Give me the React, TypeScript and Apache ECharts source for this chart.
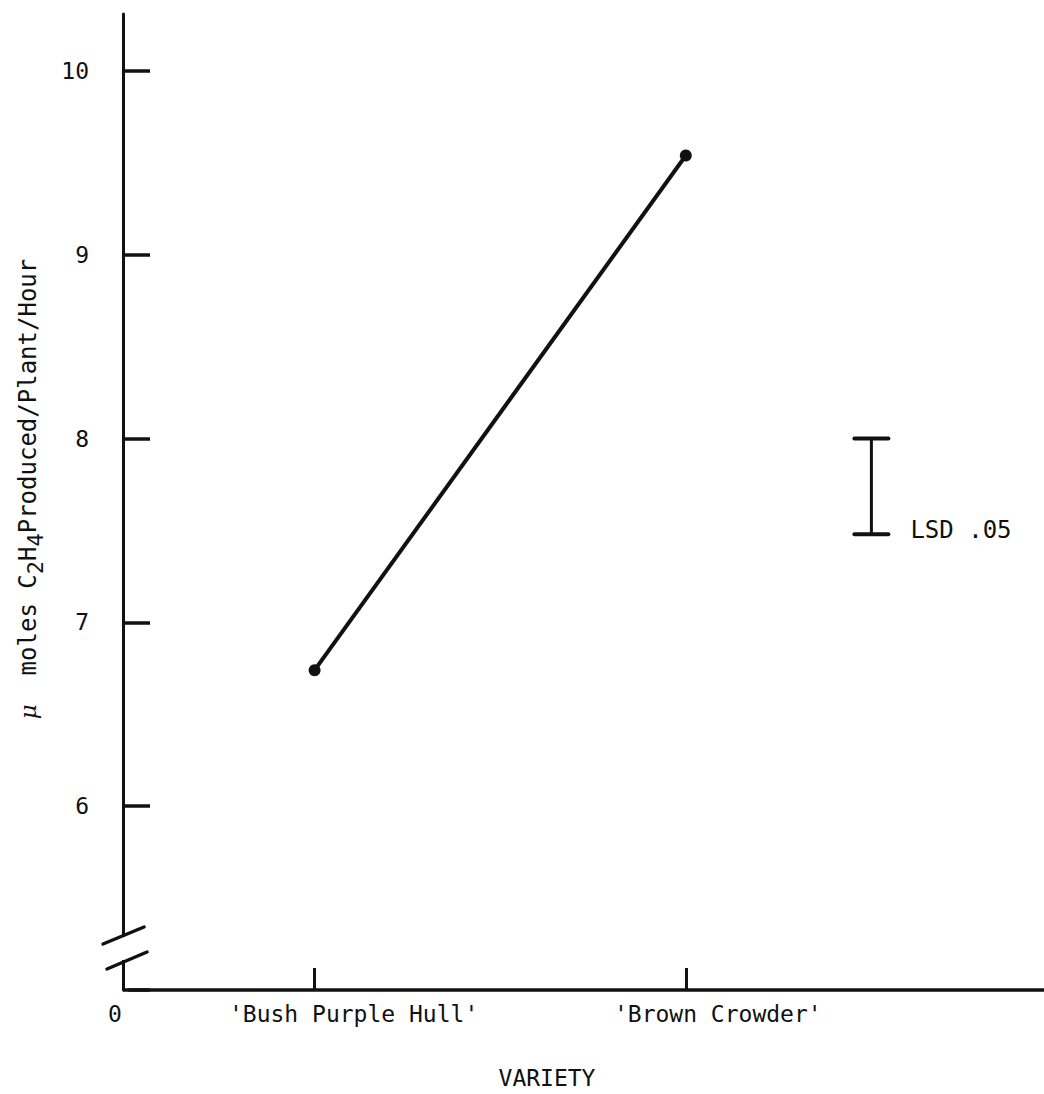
import React, { useEffect, useRef } from "react";
import * as echarts from "echarts";

// ---- data ----
const varieties = ["'Bush Purple Hull'", "'Brown Crowder'"];
const ethylene = [6.74, 9.54];
const xSlots = ["0", varieties[0], "", varieties[1], "LSD", ""];
const yMin = 5;
const yMax = 10.31;
const yInterval = 1;
const lsdTop = 8.0;
const lsdValue = 0.52;
const lsdLabel = "LSD .05";
const xTitle = "VARIETY";

const FONT = '"DejaVu Sans Mono", "Liberation Mono", monospace';
const INK = "#111";
const CHART_W = 1057;

export default function App() {
  const ref = useRef<HTMLDivElement>(null);

  useEffect(() => {
    if (!ref.current) return;
    const chart = echarts.init(ref.current, undefined, { renderer: "svg" });

    const labelPad = (s: string) => {
      if (s === "0") return { padding: [0, 28, 0, 0] };
      if (s === varieties[0]) return { padding: [0, 0, 0, 78] };
      if (s === varieties[1]) return { padding: [0, 0, 0, 64] };
      return {};
    };

    const option: any = {
      animation: false,
      backgroundColor: "#fff",
      grid: { left: 129, right: 0, top: 14, bottom: 104, containLabel: false },
      xAxis: {
        type: "category",
        boundaryGap: false,
        data: xSlots.map((s) => ({ value: s, textStyle: labelPad(s) })),
        axisLine: { lineStyle: { color: INK, width: 3.5 } },
        axisTick: {
          inside: true,
          length: 22,
          interval: (i: number, v: string) => varieties.includes(v),
          lineStyle: { color: INK, width: 3 },
        },
        axisLabel: {
          interval: (i: number, v: string) => v === "0" || varieties.includes(v),
          margin: 12,
          fontFamily: FONT,
          fontSize: 23,
          color: INK,
        },
        splitLine: { show: false },
        name: xTitle,
        nameLocation: "middle",
        nameGap: 76,
        nameTextStyle: { fontFamily: FONT, fontSize: 23, color: INK, padding: [0, 92, 0, 0] },
      },
      yAxis: {
        type: "value",
        min: yMin,
        max: yMax,
        interval: yInterval,
        offset: 6,
        axisLine: { show: true, lineStyle: { color: INK, width: 3 } },
        axisTick: { show: true, inside: true, length: 27, lineStyle: { color: INK, width: 3.5 } },
        axisLabel: {
          margin: 34,
          fontFamily: FONT,
          fontSize: 23,
          color: INK,
          formatter: (v: number) => (v === yMin ? "" : String(v)),
          showMaxLabel: false,
        },
        splitLine: { show: false },
      },
      graphic: [
        {
          type: "rect",
          z: 100,
          shape: { x: 117, y: 937, width: 12, height: 23 },
          style: { fill: "#fff" },
        },
        {
          type: "line",
          z: 101,
          shape: { x1: 103, y1: 944, x2: 144, y2: 927 },
          style: { stroke: INK, lineWidth: 3.5, lineCap: "round" },
        },
        {
          type: "line",
          z: 101,
          shape: { x1: 107, y1: 969, x2: 147, y2: 952 },
          style: { stroke: INK, lineWidth: 3.5, lineCap: "round" },
        },
        {
          type: "text",
          z: 101,
          x: 31,
          y: 489,
          rotation: Math.PI / 2,
          style: {
            text: "{m|\u03bc}{a|  moles C}{s|2}{a|H}{s|4}{a|Produced/Plant/Hour}",
            align: "center",
            verticalAlign: "middle",
            fill: INK,
            rich: {
              m: { fontFamily: "DejaVu Serif", fontStyle: "italic", fontSize: 23, lineHeight: 22, verticalAlign: "top", fill: INK },
              a: { fontFamily: FONT, fontSize: 24, lineHeight: 22, verticalAlign: "top", fill: INK },
              s: { fontFamily: FONT, fontSize: 22, lineHeight: 30, verticalAlign: "bottom", fill: INK },
            },
          },
        },
      ],
      series: [
        {
          type: "line",
          data: varieties.map((v, i) => [v, ethylene[i]]),
          symbol: "circle",
          symbolSize: 12,
          lineStyle: { color: INK, width: 4 },
          itemStyle: { color: INK },
          z: 5,
        },
        {
          type: "custom",
          data: [["LSD", lsdTop, lsdTop - lsdValue]],
          renderItem: (params: any, api: any) => {
            const top = api.coord([api.value(0), api.value(1)]);
            const bot = api.coord([api.value(0), api.value(2)]);
            const hw = 17;
            return {
              type: "group",
              children: [
                { type: "line", shape: { x1: top[0], y1: top[1], x2: bot[0], y2: bot[1] }, style: { stroke: INK, lineWidth: 3 } },
                { type: "line", shape: { x1: top[0] - hw, y1: top[1], x2: top[0] + hw, y2: top[1] }, style: { stroke: INK, lineWidth: 4, lineCap: "round" } },
                { type: "line", shape: { x1: bot[0] - hw, y1: bot[1], x2: bot[0] + hw, y2: bot[1] }, style: { stroke: INK, lineWidth: 4, lineCap: "round" } },
                {
                  type: "text",
                  x: bot[0] + 39,
                  y: bot[1] - 4,
                  style: { text: lsdLabel, fontFamily: FONT, fontSize: 24, fill: INK, align: "left", verticalAlign: "middle" },
                },
              ],
            };
          },
        },
      ],
    };

    chart.setOption(option);
    return () => chart.dispose();
  }, []);

  return (
    <div
      style={{ position: "absolute", left: 0, top: 0, width: 1044, height: 1094, overflow: "hidden", background: "#fff" }}
    >
      <div ref={ref} style={{ width: CHART_W, height: 1094 }} />
    </div>
  );
}
